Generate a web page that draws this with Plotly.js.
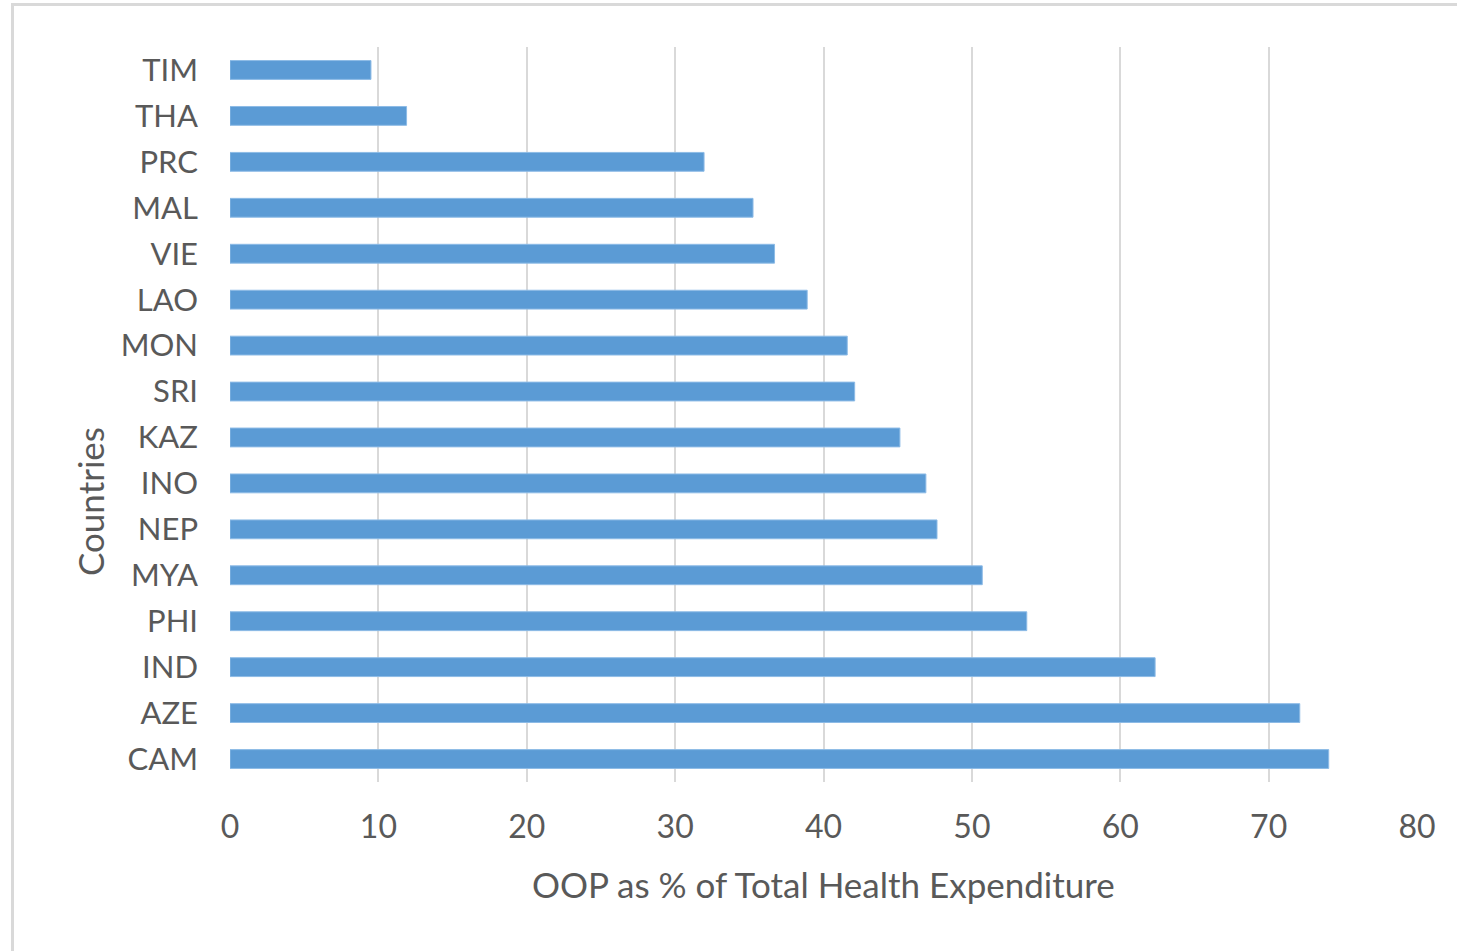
<!DOCTYPE html>
<html>
<head>
<meta charset="utf-8">
<script src="https://cdn.plot.ly/plotly-3.0.1.min.js"></script>
<style>
  html, body { margin: 0; padding: 0; background: #ffffff; }
  #wrap { position: relative; width: 1457px; height: 951px; overflow: hidden; }
  #chart { position: absolute; left: 0; top: 0; width: 1457px; height: 951px; }
  #frame { position: absolute; left: 11px; top: 3px; width: 1500px; height: 1000px;
           border-top: 3px solid #d9d9d9; border-left: 3px solid #d9d9d9; pointer-events: none; }
</style>
</head>
<body>
<div id="wrap">
  <div id="chart"></div>
  <div id="frame"></div>
</div>
<script>
// Countries listed top to bottom as shown
const countries = ["TIM", "THA", "PRC", "MAL", "VIE", "LAO", "MON", "SRI", "KAZ", "INO", "NEP", "MYA", "PHI", "IND", "AZE", "CAM"];
const oopShare = [9.5, 11.9, 31.95, 35.25, 36.7, 38.9, 41.6, 42.1, 45.15, 46.9, 47.65, 50.7, 53.7, 62.35, 72.1, 74.05];
const xTicks = [0, 10, 20, 30, 40, 50, 60, 70, 80];
const xTitle = "OOP as % of Total Health Expenditure";
const yTitle = "Countries";

const font = "Lato, 'Open Sans', sans-serif";
const trace = {
  type: "bar",
  orientation: "h",
  x: oopShare,
  y: countries,
  marker: { color: "#5b9bd5", line: { color: "#8dbbe6", width: 1 } },
  hoverinfo: "x+y"
};

const layout = {
  width: 1457, height: 951,
  margin: { l: 230, r: 40, t: 47, b: 169 },
  paper_bgcolor: "#ffffff",
  plot_bgcolor: "#ffffff",
  showlegend: false,
  bargap: 0.59,
  font: { family: font, color: "#595959" },
  xaxis: {
    range: [0, 80],
    tickvals: xTicks,
    ticktext: xTicks.map(String),
    showgrid: true, gridcolor: "#d9d9d9", gridwidth: 2,
    zeroline: false, showline: false,
    ticks: "", ticklabelstandoff: 23,
    tickfont: { family: font, size: 32, color: "#595959" }
  },
  yaxis: {
    type: "category",
    autorange: "reversed",
    showgrid: false, zeroline: false, showline: false,
    ticks: "", ticklabelstandoff: 31,
    tickfont: { family: font, size: 31, color: "#595959" }
  },
  annotations: [
    { text: xTitle, xref: "paper", yref: "paper", x: 0.5, y: -0.1388,
      xanchor: "center", yanchor: "middle", showarrow: false,
      font: { family: font, size: 35, color: "#595959" } },
    { text: yTitle, xref: "paper", yref: "paper", x: -0.1179, y: 0.381,
      xanchor: "center", yanchor: "middle", showarrow: false, textangle: -90,
      font: { family: font, size: 35, color: "#595959" } }
  ]
};

Plotly.newPlot("chart", [trace], layout, { staticPlot: true, displayModeBar: false });
</script>
</body>
</html>
